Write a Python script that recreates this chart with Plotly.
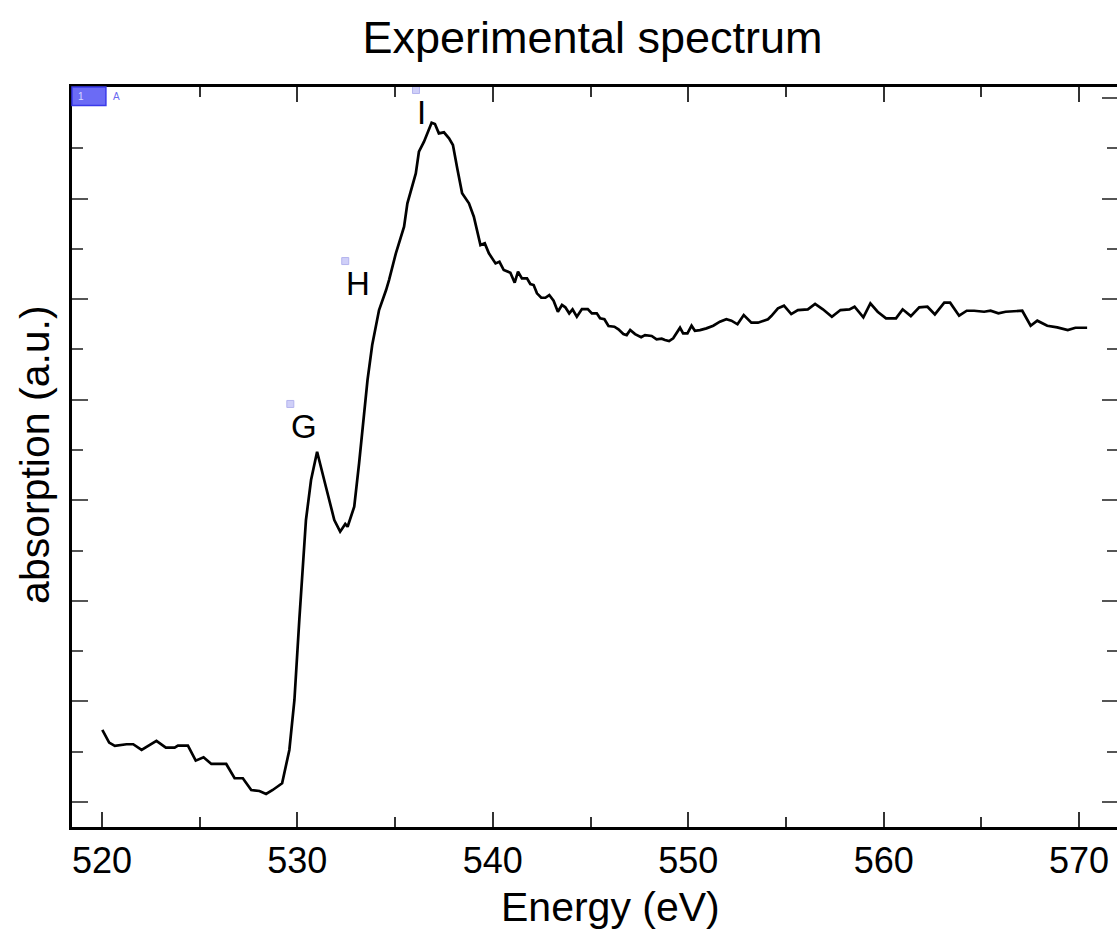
import plotly.graph_objects as go

# Espectro experimental (energia en eV, absorcion en u.a.)
ENERGIA = [
    520.02, 520.37, 520.66, 521.26, 521.60, 522.03, 522.79, 523.27, 523.72, 523.89,
    524.40, 524.80, 525.20, 525.60, 526.36, 526.79, 527.21, 527.64, 528.06, 528.40,
    528.74, 529.22, 529.59, 529.85, 530.10, 530.32, 530.44, 530.70, 531.01, 531.46,
    531.89, 532.19, 532.45, 532.57, 532.91, 533.16, 533.42, 533.59, 533.83, 534.18,
    534.54, 534.69, 535.04, 535.46, 535.63, 535.88, 536.06, 536.22, 536.48, 536.87,
    537.04, 537.24, 537.50, 537.76, 537.96, 538.18, 538.43, 538.78, 539.03, 539.37,
    539.59, 539.80, 540.14, 540.34, 540.56, 540.90, 541.12, 541.29, 541.49, 541.75,
    541.92, 542.09, 542.26, 542.48, 542.69, 542.89, 543.11, 543.33, 543.54, 543.71,
    543.91, 544.08, 544.30, 544.56, 544.86, 545.07, 545.32, 545.49, 545.71, 545.92,
    546.22, 546.43, 546.68, 546.85, 547.03, 547.28, 547.59, 547.79, 548.13, 548.38,
    548.64, 548.81, 549.02, 549.23, 549.40, 549.58, 549.74, 549.96, 550.17, 550.34,
    550.60, 550.93, 551.28, 551.62, 551.95, 552.21, 552.52, 552.84, 553.23, 553.57,
    554.08, 554.25, 554.59, 554.90, 555.27, 555.61, 556.12, 556.49, 556.89, 557.35,
    557.79, 558.25, 558.51, 558.96, 559.32, 559.69, 560.12, 560.63, 560.97, 561.39,
    561.82, 562.24, 562.62, 563.10, 563.40, 563.86, 564.25, 564.63, 565.14, 565.47,
    565.87, 566.24, 567.09, 567.52, 567.86, 568.37, 568.88, 569.42, 569.81, 570.41,
]
ABSORCION = [
    0.716, 0.590, 0.557, 0.574, 0.574, 0.517, 0.607, 0.540, 0.540, 0.560,
    0.560, 0.411, 0.444, 0.378, 0.378, 0.236, 0.236, 0.119, 0.109, 0.080,
    0.119, 0.186, 0.517, 1.014, 1.810, 2.439, 2.804, 3.202, 3.483, 3.135,
    2.804, 2.688, 2.764, 2.737, 2.936, 3.371, 3.868, 4.196, 4.544, 4.892,
    5.091, 5.190, 5.456, 5.720, 5.953, 6.118, 6.251, 6.466, 6.566, 6.754,
    6.742, 6.649, 6.659, 6.599, 6.533, 6.301, 6.053, 5.953, 5.820, 5.538,
    5.555, 5.456, 5.356, 5.372, 5.290, 5.263, 5.164, 5.273, 5.207, 5.207,
    5.151, 5.141, 5.058, 5.014, 5.014, 5.041, 4.985, 4.875, 4.942, 4.919,
    4.859, 4.899, 4.825, 4.902, 4.902, 4.859, 4.859, 4.810, 4.800, 4.733,
    4.726, 4.700, 4.653, 4.643, 4.693, 4.653, 4.621, 4.643, 4.634, 4.601,
    4.607, 4.594, 4.584, 4.611, 4.660, 4.716, 4.660, 4.660, 4.736, 4.686,
    4.693, 4.710, 4.736, 4.776, 4.800, 4.786, 4.750, 4.842, 4.766, 4.766,
    4.800, 4.832, 4.909, 4.935, 4.852, 4.892, 4.899, 4.952, 4.899, 4.825,
    4.892, 4.899, 4.925, 4.819, 4.959, 4.875, 4.810, 4.810, 4.899, 4.832,
    4.919, 4.925, 4.849, 4.965, 4.965, 4.836, 4.885, 4.885, 4.875, 4.885,
    4.859, 4.875, 4.885, 4.736, 4.786, 4.736, 4.720, 4.693, 4.716, 4.716,
]

# Marcadores de los picos (G, H, I)
PICOS_ETIQUETA = ["G", "H", "I"]
PICOS_ENERGIA = [529.64, 532.45, 536.07]
PICOS_ABS = [3.958, 5.379, 7.080]

FUENTE = "Arial, Liberation Sans, sans-serif"
ANCHO, ALTO = 1121, 936  # un poco mas ancho que la ventana: el borde derecho queda fuera

fig = go.Figure()

fig.add_trace(go.Scatter(
    x=ENERGIA, y=ABSORCION, mode="lines",
    line=dict(color="black", width=2.7),
    showlegend=False, hoverinfo="skip",
))

fig.add_trace(go.Scatter(
    x=PICOS_ENERGIA, y=PICOS_ABS, mode="markers",
    marker=dict(symbol="square", size=7, color="#cfcff8",
                line=dict(color="#b4b4ee", width=1)),
    showlegend=False, hoverinfo="skip", cliponaxis=False,
))

for etiqueta, e, a in zip(PICOS_ETIQUETA, PICOS_ENERGIA, PICOS_ABS):
    fig.add_annotation(
        x=e, y=a, text=etiqueta, showarrow=False,
        xanchor="left", yanchor="top", xshift=-1, yshift=-2,
        font=dict(family=FUENTE, size=33, color="black"),
    )

# Recuadro "1" / "A" de la esquina superior izquierda
ancho_plot = ANCHO - 72
fig.add_shape(type="rect", xref="paper", yref="paper",
              x0=0, x1=34 / ancho_plot, y0=0.975, y1=1.0,
              fillcolor="#6b6bf5", line=dict(color="#3a3aea", width=1.5))
fig.add_annotation(x=9 / ancho_plot, y=0.9875, xref="paper", yref="paper",
                   text="1", showarrow=False, xanchor="center", yanchor="middle",
                   font=dict(family=FUENTE, size=10, color="#d8d8ff"))
fig.add_annotation(x=45 / ancho_plot, y=0.9875, xref="paper", yref="paper",
                   text="A", showarrow=False, xanchor="center", yanchor="middle",
                   font=dict(family=FUENTE, size=10, color="#6a6af0"))

# Titulos de ejes como anotaciones
fig.add_annotation(x=(612 - 72) / ancho_plot, y=-0.108, xref="paper", yref="paper",
                   text="Energy (eV)", showarrow=False,
                   xanchor="center", yanchor="middle",
                   font=dict(family=FUENTE, size=41, color="black"))
fig.add_annotation(x=-37 / ancho_plot, y=0.503, xref="paper", yref="paper",
                   text="absorption (a.u.)", showarrow=False, textangle=-90,
                   xanchor="center", yanchor="middle",
                   font=dict(family=FUENTE, size=41, color="black"))

fig.update_layout(
    title=dict(text="Experimental spectrum", x=(594 - 72) / ancho_plot,
               xref="paper", xanchor="center", y=1 - 37 / ALTO,
               yref="container", yanchor="middle",
               font=dict(family=FUENTE, size=45, color="black")),
    width=ANCHO, height=ALTO,
    margin=dict(l=72, r=0, t=87, b=109),
    plot_bgcolor="white", paper_bgcolor="white",
    font=dict(family=FUENTE, color="black"),
    xaxis=dict(
        range=[518.469, 520 + (ANCHO - 102) / 19.6],
        tickmode="linear", tick0=520, dtick=10,
        ticks="inside", ticklen=15, tickwidth=1.5, tickcolor="#333",
        minor=dict(ticks="inside", dtick=5, ticklen=10, tickwidth=1.5,
                   tickcolor="#333"),
        showline=True, linecolor="black", linewidth=2.5, mirror="ticks",
        showgrid=False, zeroline=False,
        tickfont=dict(family=FUENTE, size=36, color="black"),
    ),
    yaxis=dict(
        range=[-0.249, 7.11], tickmode="linear", tick0=0, dtick=1,
        ticks="inside", ticklen=16, tickwidth=1.5, tickcolor="#555",
        minor=dict(ticks="inside", dtick=0.5, ticklen=11, tickwidth=1.5,
                   tickcolor="#555"),
        showticklabels=False,
        showline=True, linecolor="black", linewidth=2.5, mirror="ticks",
        showgrid=False, zeroline=False,
    ),
)

# sin margen del body para que la figura ocupe la ventana exacta
fig.write_html(
    "out.html",
    config={"displayModeBar": False},
    post_script="document.body.style.margin='0';"
                "document.body.style.overflow='hidden';",
)
